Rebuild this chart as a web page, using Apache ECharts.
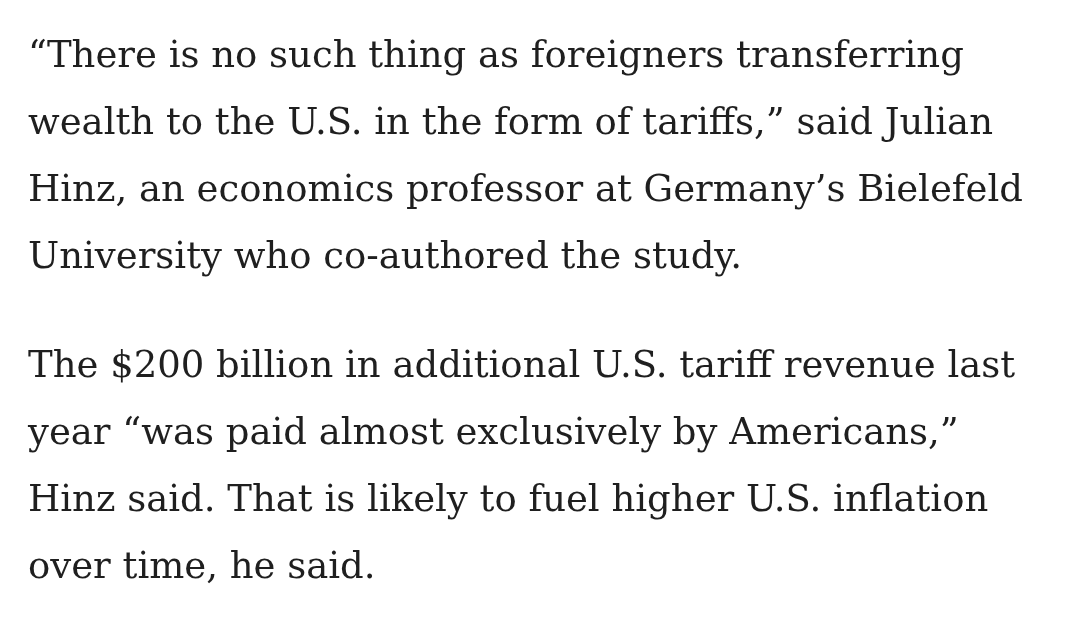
<!DOCTYPE html>
<html><head><meta charset="utf-8">
<script src="https://cdn.jsdelivr.net/npm/echarts@6/dist/echarts.min.js"></script>
<style>html,body{margin:0;padding:0;background:#fff}#c{width:1080px;height:632px}</style>
</head><body><div id="c"></div>
<script>
const paragraph1 = [
  "“There is no such thing as foreigners transferring",
  "wealth to the U.S. in the form of tariffs,” said Julian",
  "Hinz, an economics professor at Germany’s Bielefeld",
  "University who co-authored the study."
];
const paragraph2 = [
  "The $200 billion in additional U.S. tariff revenue last",
  "year “was paid almost exclusively by Americans,”",
  "Hinz said. That is likely to fuel higher U.S. inflation",
  "over time, he said."
];
const chart = echarts.init(document.getElementById('c'));
const els = [];
function addPara(lines, y0) {
  lines.forEach((t, i) => {
    els.push({type:'text', left:28, top:y0 + i*67,
      style:{text:t, fill:'#1f1f1f', font:'37px "DejaVu Serif"'}});
  });
}
addPara(paragraph1, 39);
addPara(paragraph2, 349);
chart.setOption({backgroundColor:'#fff', graphic:{elements:els}});
</script></body></html>
